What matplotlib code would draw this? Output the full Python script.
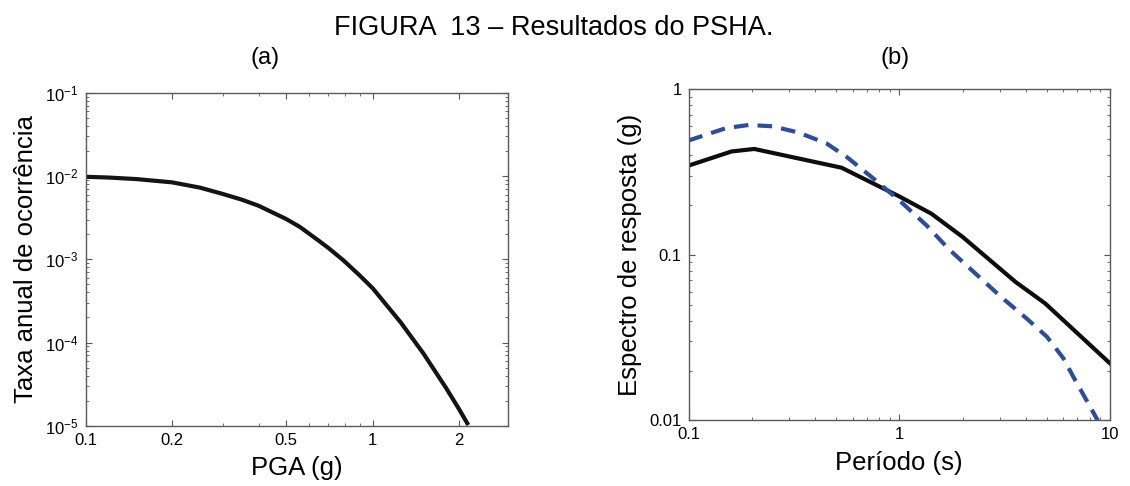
import matplotlib
matplotlib.use("Agg")
import matplotlib.pyplot as plt
from matplotlib.ticker import FixedLocator, NullFormatter, LogLocator

plt.rcParams['font.family'] = ['Liberation Sans', 'DejaVu Sans']
plt.rcParams['mathtext.fontset'] = 'custom'
plt.rcParams['mathtext.rm'] = 'Liberation Sans'

# (a) curva de perigo: PGA x taxa anual
pga = [0.1, 0.12, 0.15, 0.2, 0.25, 0.3, 0.35, 0.4, 0.5, 0.557, 0.65, 0.7,
       0.789, 0.9, 1.0, 1.25, 1.5, 1.8, 2.0, 2.15]
taxa = [0.0098, 0.0096, 0.0092, 0.0084, 0.00726, 0.0061, 0.0052, 0.0044,
        0.00304, 0.00245, 0.00166, 0.00137, 9.75e-4, 6.4e-4, 4.47e-4,
        1.75e-4, 7.4e-5, 2.84e-5, 1.57e-5, 1.02e-5]

# (b) espectros de resposta
periodo_uhs = [0.1, 0.16, 0.205, 0.533, 1.0, 1.42, 2.0, 3.56, 4.93, 10]
sa_uhs = [0.345, 0.42, 0.435, 0.335, 0.225, 0.177, 0.128, 0.0686, 0.0508, 0.0221]

periodo_tr = [0.1, 0.15, 0.193, 0.25, 0.33, 0.45, 0.565, 0.75, 1.0, 1.35,
              1.72, 2.3, 3.05, 4.0, 5.02, 6.0, 6.82, 7.8, 8.75]
sa_tr = [0.489, 0.58, 0.607, 0.596, 0.548, 0.471, 0.388, 0.29, 0.213, 0.15,
         0.108, 0.077, 0.0555, 0.0415, 0.032, 0.0238, 0.0176, 0.013, 0.01]

fig = plt.figure(figsize=(11.3, 4.86), dpi=100)
fig.text(0.49, 0.942, "FIGURA  13 \u2013 Resultados do PSHA.", ha='center', va='center', fontsize=19.5)
fig.text(0.235, 0.881, "(a)", ha='center', va='center', fontsize=17)
fig.text(0.792, 0.881, "(b)", ha='center', va='center', fontsize=17)

ax1 = fig.add_axes([0.0758, 0.124, 0.3735, 0.685])
ax2 = fig.add_axes([0.6093, 0.1348, 0.373, 0.682])


def estilo(ax):
    for s in ax.spines.values():
        s.set_color('#5a5a5a')
        s.set_linewidth(1.0)
    ax.tick_params(which='both', direction='in', top=True, right=True,
                   color='#555555', labelsize=12, pad=5)
    ax.tick_params(which='major', length=4)
    ax.tick_params(which='minor', length=2)


ax1.plot(pga, taxa, color='#141414', lw=3.0, solid_capstyle='butt')
ax1.set_xscale('log')
ax1.set_yscale('log')
ax1.set_xlim(0.1, 2.95)
ax1.set_ylim(1e-5, 1e-1)
ax1.xaxis.set_major_locator(FixedLocator([0.1, 0.2, 0.5, 1, 2]))
ax1.set_xticklabels(['0.1', '0.2', '0.5', '1', '2'])
ax1.xaxis.set_minor_locator(LogLocator(base=10, subs=range(2, 10)))
ax1.xaxis.set_minor_formatter(NullFormatter())
ax1.yaxis.set_major_locator(LogLocator(base=10, numticks=10))
ax1.yaxis.set_minor_locator(LogLocator(base=10, subs=range(2, 10), numticks=20))
ax1.yaxis.set_minor_formatter(NullFormatter())
ax1.set_xlabel("PGA (g)", fontsize=18.5, labelpad=6)
ax1.set_ylabel("Taxa anual de ocorrência", fontsize=18.5, labelpad=5)
estilo(ax1)

ax2.plot(periodo_uhs, sa_uhs, color='#0d0d0d', lw=3.0)
ax2.plot(periodo_tr, sa_tr, color='#2c4d9e', lw=3.0, dashes=(3.5, 2.2))
ax2.set_xscale('log')
ax2.set_yscale('log')
ax2.set_xlim(0.1, 10)
ax2.set_ylim(0.01, 1)
ax2.xaxis.set_major_locator(FixedLocator([0.1, 1, 10]))
ax2.set_xticklabels(['0.1', '1', '10'])
ax2.yaxis.set_major_locator(FixedLocator([0.01, 0.1, 1]))
ax2.set_yticklabels(['0.01', '0.1', '1'])
for a in (ax2.xaxis, ax2.yaxis):
    a.set_minor_locator(LogLocator(base=10, subs=range(2, 10)))
    a.set_minor_formatter(NullFormatter())
ax2.set_xlabel("Período (s)", fontsize=18.5, labelpad=6)
ax2.set_ylabel("Espectro de resposta (g)", fontsize=18.5, labelpad=5)
estilo(ax2)

fig.savefig("out.png", dpi=100)
